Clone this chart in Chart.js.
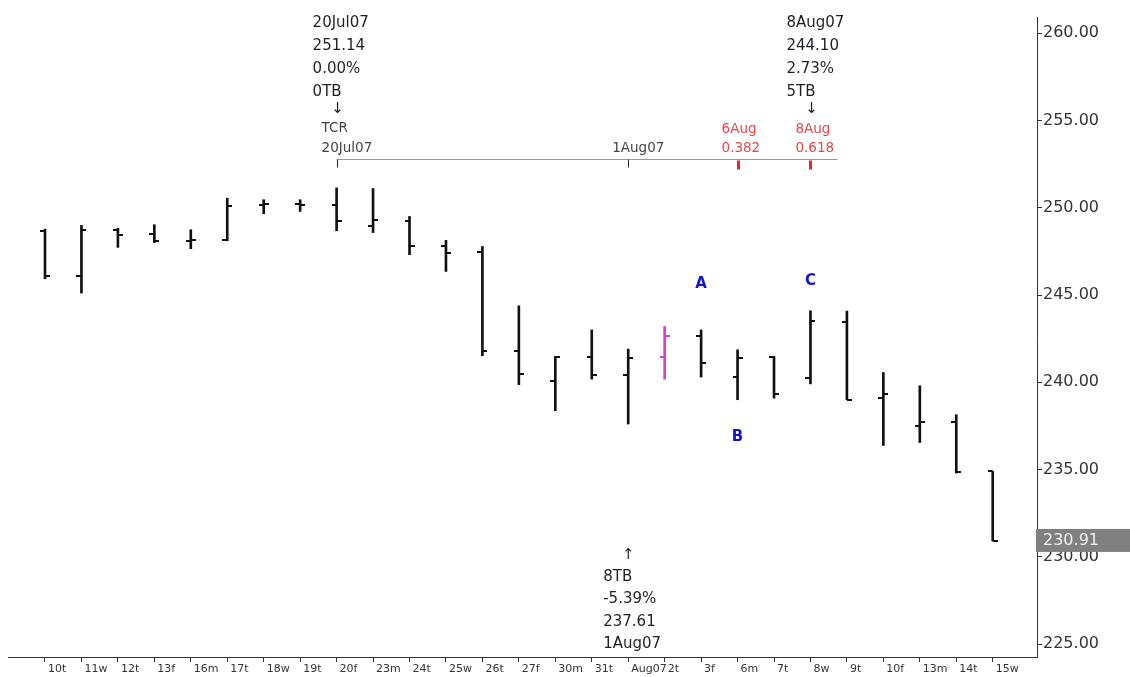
<!DOCTYPE html>
<html>
<head>
<meta charset="utf-8">
<script src="https://cdn.jsdelivr.net/npm/chart.js@4.4.1/dist/chart.umd.min.js"></script>
<style>
  html, body { margin: 0; padding: 0; background: #fff; }
  #wrap { width: 1130px; height: 677px; position: relative; }
</style>
</head>
<body>
<div id="wrap"><canvas id="chart"></canvas></div>
<script>
// Daily bars, 10 Jul - 15 Aug 2007
const days = ['10t', '11w', '12t', '13f', '16m', '17t', '18w', '19t', '20f', '23m', '24t', '25w', '26t', '27f',
              '30m', '31t', 'Aug07', '2t', '3f', '6m', '7t', '8w', '9t', '10f', '13m', '14t', '15w'];
const opens  = [248.64, 246.10, 248.74, 248.49, 248.07, 248.17, 250.17, 250.20, 250.13, 248.97, 249.22, 247.82, 247.44, 241.77,
                240.05, 241.45, 240.39, 241.45, 242.64, 240.30, 241.45, 240.24, 243.45, 239.09, 237.52, 237.70, 234.90];
const highs  = [248.78, 248.99, 248.83, 249.03, 248.74, 250.55, 250.46, 250.46, 251.14, 251.10, 249.50, 248.13, 247.78, 244.38,
                241.48, 243.00, 241.90, 243.20, 243.00, 241.86, 241.48, 244.10, 244.08, 240.56, 239.80, 238.14, 234.90];
const lows   = [245.93, 245.11, 247.73, 248.01, 247.65, 248.11, 249.66, 249.79, 248.68, 248.58, 247.31, 246.35, 241.52, 239.86,
                238.37, 240.18, 237.61, 240.18, 240.30, 239.00, 239.09, 239.91, 239.00, 236.38, 236.55, 234.80, 230.91];
const closes = [246.07, 248.72, 248.45, 248.07, 248.17, 250.11, 250.23, 250.15, 249.22, 249.31, 247.82, 247.40, 241.77, 240.47,
                241.45, 240.39, 241.42, 242.66, 241.08, 241.42, 239.34, 243.52, 239.00, 239.34, 237.70, 234.85, 230.91];
const yTicks = [225, 230, 235, 240, 245, 250, 255, 260];
const highlightBar = 17;

const BLACK = '#111';
const MAGENTA = '#d83fd8';
const FONT = '"DejaVu Sans", Verdana, sans-serif';

// little open/close ticks used as point images
function tickImage(color, side) {
    const c = document.createElement('canvas');
    c.width = 10; c.height = 2;
    const g = c.getContext('2d');
    g.fillStyle = color;
    if (side === 'left') g.fillRect(0, 0, 5, 2); else g.fillRect(5, 0, 5, 2);
    return c;
}
const openTick = { black: tickImage(BLACK, 'left'), pink: tickImage(MAGENTA, 'left') };
const closeTick = { black: tickImage(BLACK, 'right'), pink: tickImage(MAGENTA, 'right') };
const barColor = ctx => ctx.dataIndex === highlightBar ? MAGENTA : BLACK;

// text notes drawn on top of the bars
const notes = {
    topLeft: { bar: 8, lines: ['20Jul07', '251.14', '0.00%', '0TB'] },
    topRight: { bar: 21, lines: ['8Aug07', '244.10', '2.73%', '5TB'] },
    bottom: { bar: 16, lines: ['8TB', '-5.39%', '237.61', '1Aug07'] },
    waves: [{ bar: 18, text: 'A', value: 245.65 }, { bar: 19, text: 'B', value: 236.85 }, { bar: 21, text: 'C', value: 245.8 }]
};

const notesPlugin = {
    id: 'notes',
    afterDraw(chart) {
        const ctx = chart.ctx, xs = chart.scales.x, ys = chart.scales.y;
        const px = i => xs.getPixelForValue(i);
        ctx.save();
        ctx.textBaseline = 'middle';
        ctx.textAlign = 'left';

        // date/price blocks
        ctx.fillStyle = '#221e26';
        ctx.font = '15px ' + FONT;
        [notes.topLeft, notes.topRight].forEach(n => {
            n.lines.forEach((t, k) => ctx.fillText(t, px(n.bar) - 24, 23 + k * 23));
        });
        notes.bottom.lines.forEach((t, k) => ctx.fillText(t, px(notes.bottom.bar) - 25, 577 + k * 22.5));
        ctx.textAlign = 'center';
        ctx.fillText('\u2193', px(notes.topLeft.bar) + 1, 109);
        ctx.fillText('\u2193', px(notes.topRight.bar) + 1, 109);
        ctx.fillText('\u2191', px(notes.bottom.bar), 555);

        // TCR time line
        const lineY = 159.5;
        ctx.strokeStyle = '#999';
        ctx.lineWidth = 1;
        ctx.beginPath();
        ctx.moveTo(px(8), lineY);
        ctx.lineTo(px(21) + 27, lineY);
        ctx.stroke();
        ctx.strokeStyle = '#222';
        [8, 16].forEach(i => {
            ctx.beginPath();
            ctx.moveTo(Math.round(px(i)) + 0.5, lineY);
            ctx.lineTo(Math.round(px(i)) + 0.5, lineY + 8);
            ctx.stroke();
        });
        ctx.fillStyle = '#e8262b';
        [19, 21].forEach(i => ctx.fillRect(Math.round(px(i)) - 1, lineY + 1, 3, 9));

        ctx.textAlign = 'left';
        ctx.font = '13.5px ' + FONT;
        ctx.fillStyle = '#444';
        ctx.fillText('TCR', px(8) - 15, 128);
        ctx.fillText('20Jul07', px(8) - 15, 148);
        ctx.fillText('1Aug07', px(16) - 16, 148);
        ctx.fillStyle = '#e2474b';
        ctx.fillText('6Aug', px(19) - 16, 129);
        ctx.fillText('0.382', px(19) - 16, 148);
        ctx.fillText('8Aug', px(21) - 15, 129);
        ctx.fillText('0.618', px(21) - 15, 148);

        // wave labels
        ctx.textAlign = 'center';
        ctx.font = 'bold 15px ' + FONT;
        ctx.fillStyle = '#1616c8';
        notes.waves.forEach(w => ctx.fillText(w.text, px(w.bar), ys.getPixelForValue(w.value)));

        // last price marker on the axis
        const last = closes[closes.length - 1];
        const ly = ys.getPixelForValue(last);
        ctx.fillStyle = '#808080';
        ctx.fillRect(chart.chartArea.right - 1, ly - 12, chart.width - chart.chartArea.right + 1, 23);
        ctx.fillStyle = '#f0f0f0';
        ctx.textAlign = 'left';
        ctx.font = '16px ' + FONT;
        ctx.fillText(last.toFixed(2), chart.chartArea.right + 6, ly);
        ctx.restore();
    }
};

new Chart(document.getElementById('chart'), {
    type: 'bar',
    data: {
        datasets: [
            {
                type: 'bar',
                data: days.map((d, i) => ({ x: i, y: [lows[i], highs[i]] })),
                backgroundColor: barColor,
                barThickness: 2,
                borderWidth: 0,
                order: 2
            },
            {
                type: 'line',
                showLine: false,
                data: days.map((d, i) => ({ x: i, y: opens[i] })),
                pointStyle: ctx => ctx.dataIndex === highlightBar ? openTick.pink : openTick.black,
                pointRadius: 5,
                order: 1
            },
            {
                type: 'line',
                showLine: false,
                data: days.map((d, i) => ({ x: i, y: closes[i] })),
                pointStyle: ctx => ctx.dataIndex === highlightBar ? closeTick.pink : closeTick.black,
                pointRadius: 5,
                order: 1
            }
        ]
    },
    options: {
        responsive: true,
        maintainAspectRatio: false,
        animation: false,
        events: [],
        layout: { padding: { top: 17, left: 8, right: 0, bottom: 0 } },
        plugins: { legend: { display: false }, tooltip: { enabled: false } },
        scales: {
            x: {
                type: 'linear',
                offset: false,
                min: -1.015,
                max: 27.215,
                afterBuildTicks: s => { s.ticks = days.map((d, i) => ({ value: i })); },
                afterFit: s => { s.height = 20; },
                grid: { offset: false, drawOnChartArea: false, drawTicks: true, tickLength: 5, tickColor: '#333' },
                border: { display: true, color: '#333', width: 1 },
                ticks: {
                    callback: v => days[v],
                    align: 'start',
                    labelOffset: 3,
                    padding: 1,
                    autoSkip: false,
                    maxRotation: 0,
                    color: '#333',
                    font: { family: FONT, size: 11 }
                }
            },
            y: {
                position: 'right',
                min: 224.26,
                max: 260.93,
                afterBuildTicks: s => { s.ticks = yTicks.map(v => ({ value: v })); },
                afterFit: s => { s.width = 93; },
                grid: { drawOnChartArea: false, drawTicks: true, tickLength: 5, tickColor: '#333' },
                border: { display: true, color: '#333', width: 1 },
                ticks: {
                    callback: v => v.toFixed(2),
                    padding: 1,
                    color: '#333',
                    font: { family: FONT, size: 16 }
                }
            }
        }
    },
    plugins: [notesPlugin]
});
</script>
</body>
</html>
